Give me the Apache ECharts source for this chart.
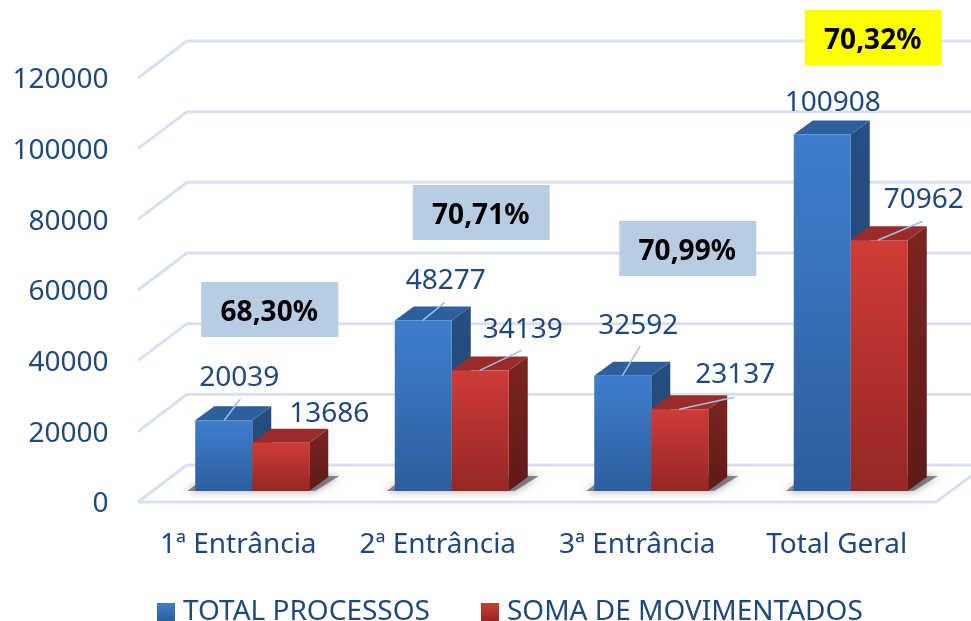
<!DOCTYPE html>
<html>
<head>
    <meta charset="utf-8">
    <title>Processos por entrância</title>
    <script src="https://cdn.jsdelivr.net/npm/echarts@6/dist/echarts.min.js"></script>
    <style>html, body { margin: 0; padding: 0; background: #fff; overflow: hidden; }</style>
</head>
<body>
    <div id="main" style="width: 971px; height: 621px;"></div>

    <script>
        var categories = ['1ª Entrância', '2ª Entrância', '3ª Entrância', 'Total Geral'];
        var totalProcessos = [20039, 48277, 32592, 100908];
        var somaMovimentados = [13686, 34139, 23137, 70962];
        var percentuais = ['68,30%', '70,71%', '70,99%', '70,32%'];
        var yTicks = [0, 20000, 40000, 60000, 80000, 100000, 120000];

        var FONT = '"Noto Sans", sans-serif';
        var TEXT_COLOR = '#1f497d';
        var GRID_COLOR = '#d5e1f1';

        // the y axis labels sit a bit below the front corner of the grid lines
        var LABEL_DROP = 2.5;

        // offsets in px, relative to the category centre at value 0 of the axis
        var BAR_W = 57, BAR_DX = 14, BAR_DY = -11 - LABEL_DROP, DEPTH_X = 19, DEPTH_Y = -14;

        // label centre and leader line, px relative to the top-left of the bar front
        var blueLabels = [
            { x: 44, y: -42, line: [29, 0, 45, -21] },
            { x: 51, y: -39, line: [28, 0, 50, -18] },
            { x: 44, y: -50, line: [28, 0, 46, -30] },
            { x: 39, y: -31, line: null }
        ];
        var redLabels = [
            { x: 77, y: -29, line: null },
            { x: 71, y: -40, line: [28, 0, 70, -20] },
            { x: 84, y: -34, line: [28, 0, 83, -12] },
            { x: 73, y: -40, line: [27, 0, 72, -19] }
        ];
        // box top-left, px relative to the category centre / value-0 line
        var boxOffsets = [[-37, -220], [-25, -317], [-18, -281], [-32, -492]];
        var boxColors = ['#b8cce4', '#b8cce4', '#b8cce4', '#ffff00'];

        function gradient(c1, c2) {
            return new echarts.graphic.LinearGradient(0, 0, 0, 1, [
                { offset: 0, color: c1 },
                { offset: 1, color: c2 }
            ]);
        }

        // one 3D bar: side, top, front, then leader line and value label
        function bar3d(params, api, shift, colors, labels) {
            var i = api.value(0);
            var top = api.coord([i, api.value(1)]);
            var base = api.coord([i, 0]);
            var x = top[0] + BAR_DX + shift;
            var y = top[1] + BAR_DY;
            var y0 = base[1] + BAR_DY;
            var lab = labels[params.dataIndex];
            var kids = [
                {
                    type: 'polygon',
                    shape: { points: [[x + BAR_W, y], [x + BAR_W + DEPTH_X, y + DEPTH_Y], [x + BAR_W + DEPTH_X, y0 + DEPTH_Y], [x + BAR_W, y0]] },
                    style: { fill: gradient(colors.side1, colors.side2) }
                },
                {
                    type: 'polygon',
                    shape: { points: [[x, y], [x + DEPTH_X, y + DEPTH_Y], [x + BAR_W + DEPTH_X, y + DEPTH_Y], [x + BAR_W, y]] },
                    style: { fill: colors.top }
                },
                {
                    type: 'rect',
                    shape: { x: x, y: y, width: BAR_W, height: y0 - y },
                    style: { fill: gradient(colors.front1, colors.front2) }
                }
            ];
            if (lab.line) {
                kids.push({
                    type: 'line',
                    shape: { x1: x + lab.line[0], y1: y + lab.line[1], x2: x + lab.line[2], y2: y + lab.line[3] },
                    style: { stroke: '#9dc0e6', lineWidth: 1.5 }
                });
            }
            kids.push({
                type: 'text',
                x: x + lab.x,
                y: y + lab.y,
                style: {
                    text: String(api.value(1)),
                    fill: TEXT_COLOR,
                    font: '28px ' + FONT,
                    align: 'center',
                    verticalAlign: 'middle'
                }
            });
            return { type: 'group', children: kids };
        }

        var blueColors = { side1: '#254f80', side2: '#1f4470', top: '#2c5f9b', front1: '#3e7ecd', front2: '#2c5e9c' };
        var redColors = { side1: '#7c2421', side2: '#5f1a18', top: '#9a2b28', front1: '#d03b37', front2: '#952724' };

        var myChart = echarts.init(document.getElementById('main'));

        myChart.setOption({
            animation: false,
            textStyle: { fontFamily: FONT },
            grid: { left: 138.5, width: 798, top: 78 + LABEL_DROP, height: 424 },
            legend: {
                data: ['TOTAL PROCESSOS', 'SOMA DE MOVIMENTADOS'],
                left: 152,
                top: 593,
                icon: 'rect',
                itemWidth: 18,
                itemHeight: 18,
                itemGap: 51,
                selectedMode: false,
                textStyle: { color: TEXT_COLOR, fontSize: 28, fontFamily: FONT, padding: [2, 0, 0, 3] }
            },
            xAxis: {
                type: 'category',
                data: categories,
                axisLine: { show: false },
                axisTick: { show: false },
                axisLabel: { color: TEXT_COLOR, fontSize: 28, margin: 29 - LABEL_DROP, interval: 0, fontFamily: FONT }
            },
            yAxis: {
                type: 'value',
                min: 0,
                max: 120000,
                interval: 20000,
                axisLine: { show: false },
                axisTick: { show: false },
                splitLine: { show: false },
                axisLabel: {
                    color: TEXT_COLOR,
                    fontSize: 28,
                    margin: 30,
                    fontFamily: FONT,
                    formatter: function (v) { return String(v); }
                }
            },
            series: [
                {
                    // back wall and floor lines
                    type: 'custom',
                    silent: true,
                    z: 1,
                    clip: false,
                    data: yTicks.map(function (t) { return [0, t]; }),
                    renderItem: function (params, api) {
                        var v = api.value(1);
                        var p = api.coord([0, v]);
                        var y = p[1] - LABEL_DROP;
                        var kids = [{
                            type: 'polyline',
                            shape: { points: [[138, y], [187, y - 37], [971, y - 37]] },
                            style: { stroke: GRID_COLOR, lineWidth: 3, fill: null }
                        }];
                        if (v === 0) {
                            kids.push({
                                type: 'polyline',
                                shape: { points: [[138, y], [936, y], [986, y - 37]] },
                                style: { stroke: GRID_COLOR, lineWidth: 3, fill: null }
                            });
                        }
                        return { type: 'group', children: kids };
                    }
                },
                {
                    // floor shadow behind each pair of bars
                    type: 'custom',
                    silent: true,
                    z: 2,
                    data: categories.map(function (c, i) { return [i, 0]; }),
                    renderItem: function (params, api) {
                        var p = api.coord([api.value(0), 0]);
                        var x = p[0] + BAR_DX;
                        var y = p[1] + BAR_DY;
                        return {
                            type: 'polygon',
                            shape: { points: [[x - BAR_W - 8, y], [x + BAR_W + 6, y], [x + BAR_W + 30, y - 15], [x + BAR_W + 10, y - 15], [x - BAR_W, y - 6]] },
                            style: { fill: 'rgba(80,80,80,0.65)', shadowBlur: 9, shadowColor: 'rgba(80,80,80,0.8)' }
                        };
                    }
                },
                {
                    name: 'TOTAL PROCESSOS',
                    type: 'custom',
                    z: 3,
                    clip: false,
                    itemStyle: { color: gradient('#3e7ecd', '#2c5e9c') },
                    encode: { x: 0, y: 1 },
                    data: totalProcessos.map(function (v, i) { return [i, v]; }),
                    renderItem: function (params, api) {
                        return bar3d(params, api, -BAR_W, blueColors, blueLabels);
                    }
                },
                {
                    name: 'SOMA DE MOVIMENTADOS',
                    type: 'custom',
                    z: 4,
                    clip: false,
                    itemStyle: { color: gradient('#d03b37', '#952724') },
                    encode: { x: 0, y: 1 },
                    data: somaMovimentados.map(function (v, i) { return [i, v]; }),
                    renderItem: function (params, api) {
                        return bar3d(params, api, 0, redColors, redLabels);
                    }
                },
                {
                    // percentage boxes
                    type: 'custom',
                    silent: true,
                    z: 5,
                    clip: false,
                    data: percentuais.map(function (t, i) { return [i, 0]; }),
                    renderItem: function (params, api) {
                        var i = params.dataIndex;
                        var p = api.coord([i, 0]);
                        var bx = p[0] + boxOffsets[i][0];
                        var by = p[1] - LABEL_DROP + boxOffsets[i][1];
                        return {
                            type: 'group',
                            children: [
                                {
                                    type: 'rect',
                                    shape: { x: bx, y: by, width: 137, height: 55 },
                                    style: { fill: boxColors[i] }
                                },
                                {
                                    type: 'text',
                                    x: bx + 68,
                                    y: by + 31,
                                    style: {
                                        text: percentuais[i],
                                        fill: '#000',
                                        font: 'bold 28px ' + FONT,
                                        align: 'center',
                                        verticalAlign: 'middle'
                                    }
                                }
                            ]
                        };
                    }
                }
            ]
        });
    </script>
</body>
</html>
